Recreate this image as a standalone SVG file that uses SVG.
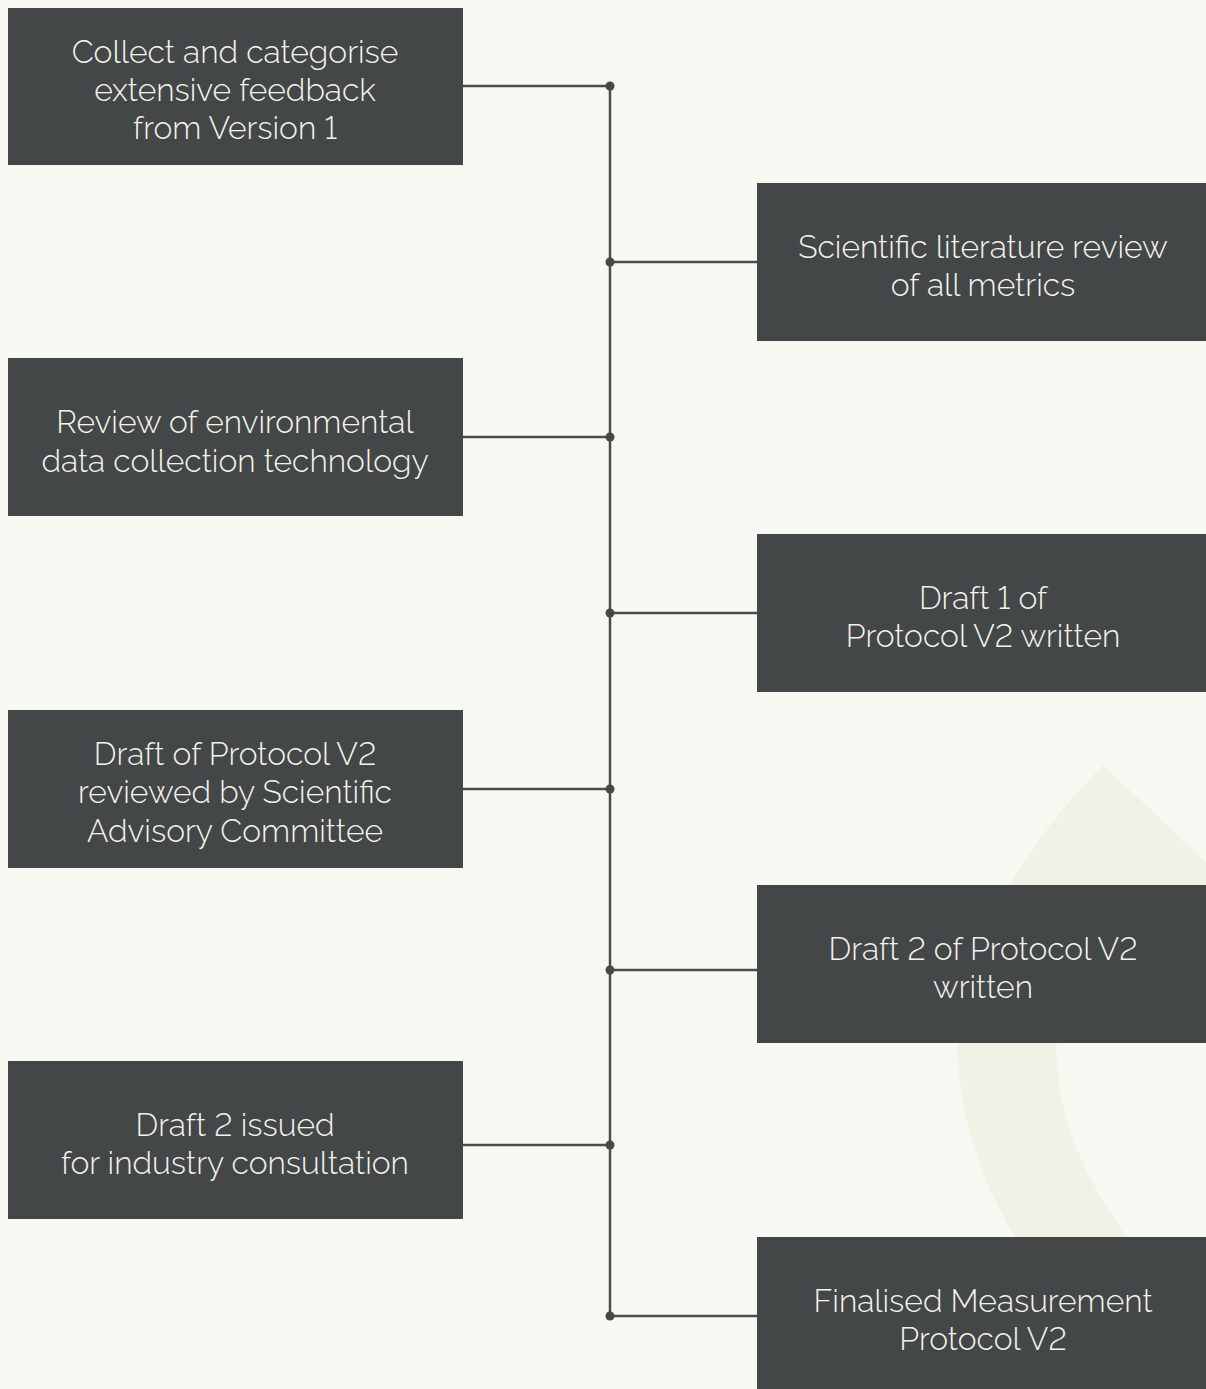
<svg xmlns="http://www.w3.org/2000/svg" width="1206" height="1389" viewBox="0 0 1206 1389">
<style>
.box{fill:#444747}
.t{font-family:Raleway,Lato,"Open Sans","Liberation Sans",sans-serif;font-weight:300;font-size:31.8px;font-variant-numeric:lining-nums;font-feature-settings:"lnum" 1;fill:#f4f4ee;text-anchor:middle}
.ln{stroke:#4a4d4d;stroke-width:2.5;fill:none}
.dot{fill:#454848}
</style>
<rect width="1206" height="1389" fill="#f7f8f1"/>
<path d="M1103,765 L1206,862 L1206,1000 L1108,907 C1068,950 1052,1005 1057,1065 C1063,1150 1110,1230 1206,1330 L1206,1389 L1140,1389 C1060,1310 965,1200 958,1060 C953,980 1000,870 1103,765 Z" fill="#f1f1e6"/>
<g id="connectors">
<line class="ln" x1="610" y1="86" x2="610" y2="1316"/>
<line class="ln" x1="463" y1="86" x2="610" y2="86"/>
<line class="ln" x1="610" y1="262" x2="757" y2="262"/>
<line class="ln" x1="463" y1="437" x2="610" y2="437"/>
<line class="ln" x1="610" y1="613" x2="757" y2="613"/>
<line class="ln" x1="463" y1="789" x2="610" y2="789"/>
<line class="ln" x1="610" y1="970" x2="757" y2="970"/>
<line class="ln" x1="463" y1="1145" x2="610" y2="1145"/>
<line class="ln" x1="610" y1="1316" x2="757" y2="1316"/>
<circle class="dot" cx="610" cy="86" r="4.5"/>
<circle class="dot" cx="610" cy="262" r="4.5"/>
<circle class="dot" cx="610" cy="437" r="4.5"/>
<circle class="dot" cx="610" cy="613" r="4.5"/>
<circle class="dot" cx="610" cy="789" r="4.5"/>
<circle class="dot" cx="610" cy="970" r="4.5"/>
<circle class="dot" cx="610" cy="1145" r="4.5"/>
<circle class="dot" cx="610" cy="1316" r="4.5"/>
</g>
<g id="n1"><rect class="box" x="8" y="8" width="455" height="157"/>
<text class="t" x="235" y="63">Collect and categorise</text>
<text class="t" x="235" y="101">extensive feedback</text>
<text class="t" x="235" y="139">from Version 1</text></g>
<g id="n2"><rect class="box" x="757" y="183" width="449" height="158"/>
<text class="t" x="983" y="258">Scientific literature review</text>
<text class="t" x="983" y="296">of all metrics</text></g>
<g id="n3"><rect class="box" x="8" y="358" width="455" height="158"/>
<text class="t" x="235" y="433">Review of environmental</text>
<text class="t" x="235" y="472">data collection technology</text></g>
<g id="n4"><rect class="box" x="757" y="534" width="449" height="158"/>
<text class="t" x="983" y="609">Draft 1 of</text>
<text class="t" x="983" y="647">Protocol V2 written</text></g>
<g id="n5"><rect class="box" x="8" y="710" width="455" height="158"/>
<text class="t" x="235" y="765">Draft of Protocol V2</text>
<text class="t" x="235" y="803">reviewed by Scientific</text>
<text class="t" x="235" y="842">Advisory Committee</text></g>
<g id="n6"><rect class="box" x="757" y="885" width="449" height="158"/>
<text class="t" x="983" y="960">Draft 2 of Protocol V2</text>
<text class="t" x="983" y="998">written</text></g>
<g id="n7"><rect class="box" x="8" y="1061" width="455" height="158"/>
<text class="t" x="235" y="1136">Draft 2 issued</text>
<text class="t" x="235" y="1174">for industry consultation</text></g>
<g id="n8"><rect class="box" x="757" y="1237" width="449" height="152"/>
<text class="t" x="983" y="1312">Finalised Measurement</text>
<text class="t" x="983" y="1350">Protocol V2</text></g>
</svg>
